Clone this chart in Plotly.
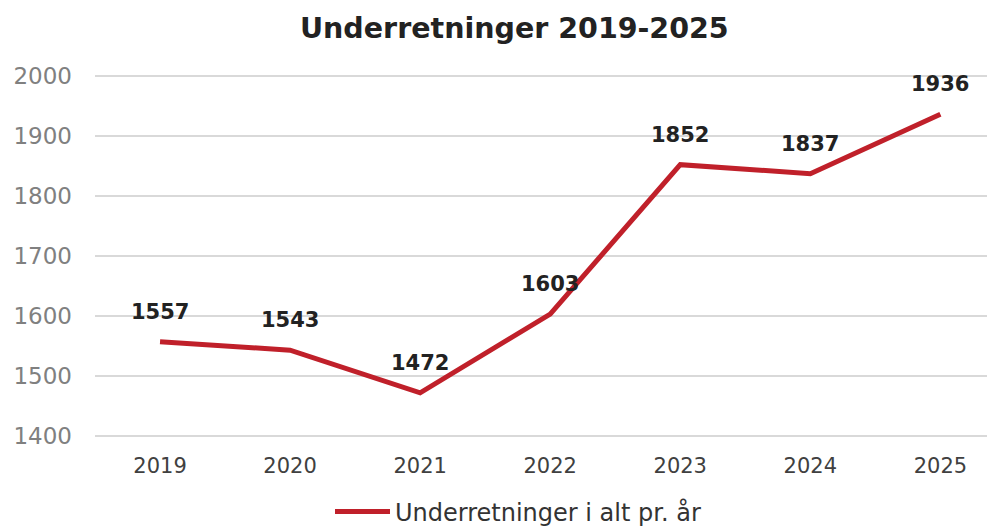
import plotly.graph_objects as go

years = ["2019", "2020", "2021", "2022", "2023", "2024", "2025"]
values = [1557, 1543, 1472, 1603, 1852, 1837, 1936]
series_name = "Underretninger i alt pr. år"
title_text = "Underretninger 2019-2025"
y_ticks = [1400, 1500, 1600, 1700, 1800, 1900, 2000]

RED = "#C0202A"
FONT = "DejaVu Sans, Verdana, sans-serif"

fig = go.Figure()
fig.add_trace(go.Scatter(
    x=years, y=values, mode="lines", name=series_name,
    line=dict(color=RED, width=5), hoverinfo="x+y",
))

for i, yv in enumerate(values):
    fig.add_annotation(
        x=i, y=yv, xref="x", yref="y", text=f"<b>{yv}</b>", showarrow=False,
        yshift=30, yanchor="middle",
        font=dict(family=FONT, size=21, color="#222222"),
    )

fig.update_layout(
    width=987, height=519,
    paper_bgcolor="white", plot_bgcolor="white",
    margin=dict(l=87, r=0, t=66, b=88, autoexpand=False),
    title=dict(text=f"<b>{title_text}</b>", x=0.513, xanchor="center",
               y=0.961, yanchor="middle",
               font=dict(family=FONT, size=28.5, color="#222222")),
    showlegend=True,
    legend=dict(orientation="h", x=0.47, xanchor="center", y=-0.2, yanchor="middle",
                font=dict(family=FONT, size=24, color="#333333"),
                itemwidth=55, bgcolor="rgba(0,0,0,0)"),
    font=dict(family=FONT),
)
fig.update_xaxes(
    type="category", range=[-0.5, 6.42], automargin=False,
    showgrid=False, showline=False, zeroline=False, ticks="",
    tickfont=dict(family=FONT, size=21, color="#404040"),
    ticklabelstandoff=12,
)
fig.update_yaxes(
    range=[1395, 2003], tickvals=y_ticks, automargin=False,
    showgrid=True, gridcolor="#d9d9d9", gridwidth=1.5,
    showline=False, zeroline=False, ticks="",
    tickfont=dict(family=FONT, size=23, color="#808080"),
    ticklabelstandoff=22,
)

fig.write_html("out.html")
